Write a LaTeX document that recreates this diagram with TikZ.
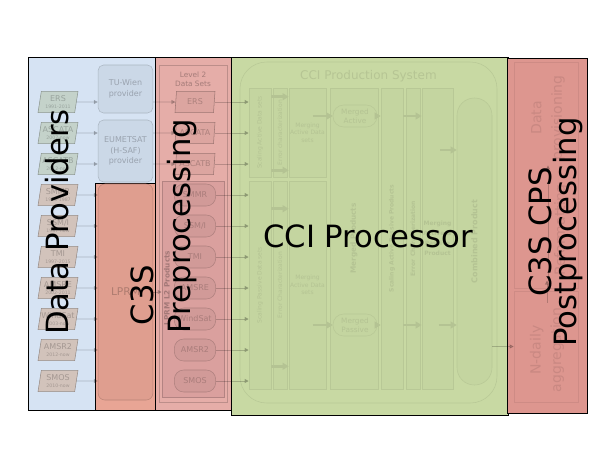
\documentclass[tikz,border=0pt]{standalone}
\usepackage{fontspec}
\setmainfont{DejaVu Sans}
\usetikzlibrary{arrows.meta, positioning, shapes.geometric}
\definecolor{provblue}{HTML}{D6E3F3}
\definecolor{c3sred}{HTML}{E8A595}
\definecolor{preppink}{HTML}{E5ADA8}
\definecolor{ccigreen}{HTML}{C8D9A3}
\definecolor{postred}{HTML}{DD968F}
\definecolor{satgreen}{HTML}{C4D2CA}
\definecolor{sattan}{HTML}{D2C3BB}
\definecolor{l2pink}{HTML}{DCA5A0}
\definecolor{l2dark}{HTML}{DAA09E}
\newcommand{\yrs}[1]{{\fontsize{3.5}{4}\selectfont #1}}

\begin{document}
\begin{tikzpicture}[x=0.75pt, y=-0.75pt,
  panel/.style={draw=black, line width=0.7pt, fill=#1},
  big/.style={font=\fontsize{23}{17.5}\selectfont, align=center, inner sep=0pt},
  sat/.style={trapezium, trapezium left angle=76, trapezium right angle=104,
    trapezium stretches body, draw=#1!72!black, fill=#1, text=#1!78!black,
    minimum width=30pt, minimum height=16pt, inner sep=0pt, align=center,
    font=\fontsize{6}{6.5}\selectfont},
  prov/.style={rectangle, rounded corners=4pt, draw=provblue!80!black,
    fill=provblue!95!black, text=provblue!72!black, minimum width=41pt,
    align=center, font=\fontsize{6}{8}\selectfont},
  oval/.style={rectangle, rounded corners=7pt, draw=l2dark!80!black,
    fill=l2dark!96!black, text=l2dark!78!black, minimum width=31pt,
    minimum height=16.5pt, inner sep=0pt, font=\fontsize{6}{7}\selectfont},
  col/.style={rectangle, draw=ccigreen!92!black, fill=ccigreen!98!black,
    text=ccigreen!90!black, inner sep=0pt, align=center,
    font=\fontsize{4.5}{5.5}\selectfont},
  ghost/.style={text=#1, font=\fontsize{10.5}{15.5}\selectfont, rotate=90, align=center},
  arr/.style={-{Triangle[length=3pt, width=3pt]}, line width=0.5pt, draw=black, opacity=0.2},
  fat/.style={-{Triangle[length=4.5pt, width=5pt]}, line width=2pt, draw=ccigreen!90!black},
]
  \path[use as bounding box, fill=white] (0,0) rectangle (589,462);

  % coloured panels
  \draw[panel=provblue] (28,57) rectangle (155,410);
  \draw[panel=c3sred] (95,183) rectangle (157,410);
  \draw[panel=preppink] (155,57) rectangle (231,410);
  \draw[panel=ccigreen] (231,57) rectangle (508,415);
  \draw[panel=postred] (507,58) rectangle (587,413);

  % data providers
  \node[prov, minimum height=36pt] (tuwien) at (125.5,89) {TU-Wien\\provider};
  \node[prov, minimum height=46.5pt] (eumetsat) at (125.5,151) {EUMETSAT\\(H-SAF)\\provider};
  \node[rectangle, rounded corners=5pt, draw=c3sred!80!black, fill=c3sred!96!black,
    text=c3sred!75!black, minimum width=41pt, minimum height=162pt,
    font=\fontsize{8}{9}\selectfont] (lprm) at (125.5,292) {LPRM};

  \node[sat=satgreen] (ers) at (58,102) {ERS\\[-1pt]\yrs{1991-2011}};
  \node[sat=satgreen] (ascata) at (58,133) {ASCATA\\[-1pt]\yrs{2007-now}};
  \node[sat=satgreen] (ascatb) at (58,164) {ASCATB\\[-1pt]\yrs{2012-now}};
  \node[sat=sattan] (smmr) at (58,195) {SMMR\\[-1pt]\yrs{1978-1987}};
  \node[sat=sattan] (ssmi) at (58,226) {SSM/I\\[-1pt]\yrs{1987-now}};
  \node[sat=sattan] (tmi) at (58,257) {TMI\\[-1pt]\yrs{1997-2015}};
  \node[sat=sattan] (amsre) at (58,288) {AMSRE\\[-1pt]\yrs{2002-2011}};
  \node[sat=sattan] (windsat) at (58,319) {WindSat\\[-1pt]\yrs{2003-now}};
  \node[sat=sattan] (amsr2) at (58,350) {AMSR2\\[-1pt]\yrs{2012-now}};
  \node[sat=sattan] (smos) at (58,381) {SMOS\\[-1pt]\yrs{2010-now}};

  \draw[arr] (ers) -- (ers -| tuwien.west);
  \draw[arr] (ascata) -- (ascata -| eumetsat.west);
  \draw[arr] (ascatb) -- (ascatb -| eumetsat.west);
  \draw[arr] (smmr) -- (smmr -| lprm.west);
  \draw[arr] (ssmi) -- (ssmi -| lprm.west);
  \draw[arr] (tmi) -- (tmi -| lprm.west);
  \draw[arr] (amsre) -- (amsre -| lprm.west);
  \draw[arr] (windsat) -- (windsat -| lprm.west);
  \draw[arr] (amsr2) -- (amsr2 -| lprm.west);
  \draw[arr] (smos) -- (smos -| lprm.west);

  % level 2 data sets
  \node[rectangle, draw=preppink!82!black, minimum width=51pt, minimum height=252.75pt] (level2) at (193,233.5) {};
  \node[font=\fontsize{5.5}{7}\selectfont, text=preppink!72!black, align=center,
    below=1.5pt of level2.north] (level2lbl) {Level 2\\Data Sets};
  \node[sat=l2pink] (l2ers) at (195,102) {ERS};
  \node[sat=l2pink] (l2ascata) at (195,133) {ASCATA};
  \node[sat=l2pink] (l2ascatb) at (195,164) {ASCATB};
  \node[rectangle, draw=l2dark!82!black, fill=l2dark, minimum width=46.5pt, minimum height=162pt] (l2lprm) at (193,289) {};
  \node[rotate=90, font=\bfseries\fontsize{5.5}{6}\selectfont, text=l2dark!75!black] (l2lprmlbl) at (167,288) {LPRM L2 Products};
  \node[oval] (l2smmr) at (195,195) {SMMR};
  \node[oval] (l2ssmi) at (195,226) {SSM/I};
  \node[oval] (l2tmi) at (195,257) {TMI};
  \node[oval] (l2amsre) at (195,288) {AMSRE};
  \node[oval] (l2windsat) at (195,319) {WindSat};
  \node[oval] (l2amsr2) at (195,350) {AMSR2};
  \node[oval] (l2smos) at (195,381) {SMOS};

  \draw[arr] (ers -| tuwien.east) -- (l2ers);
  \draw[arr] (ascata -| eumetsat.east) -- (l2ascata);
  \draw[arr] (ascatb -| eumetsat.east) -- (l2ascatb);
  \draw[arr] (lprm.east) -- (lprm.east -| l2lprm.west);

  % CCI production system
  \node[rectangle, rounded corners=20pt, draw=ccigreen!92!black, minimum width=192.75pt, minimum height=255.75pt] (cps) at (368.5,232.5) {};
  \node[font=\fontsize{9}{10}\selectfont, text=ccigreen!91!black, below=3pt of cps.north] (cpslbl) {CCI Production System};

  \node[col, minimum width=16.5pt, minimum height=66.75pt] (scaleA) at (260,132.5) {\rotatebox{90}{Scaling Active Data sets}};
  \node[col, minimum width=10.5pt, minimum height=66.75pt] (errA) at (280,132.5) {\rotatebox{90}{Error characterization}};
  \node[col, minimum width=27.75pt, minimum height=66.75pt] (mergeA) at (307.5,132.5) {Merging\\Active Data\\sets};
  \node[col, minimum width=16.5pt, minimum height=156pt] (scaleP) at (260,285) {\rotatebox{90}{Scaling Passive Data sets}};
  \node[col, minimum width=10.5pt, minimum height=156pt] (errP) at (280,285) {\rotatebox{90}{Error Characterization}};
  \node[col, minimum width=27.75pt, minimum height=156pt] (mergeP) at (307.5,285) {Merging\\Active Data\\sets};
  \node[col, minimum width=36pt, minimum height=225.75pt, font=\bfseries\fontsize{5.5}{6}\selectfont] (merged) at (354,238.5) {\rotatebox{90}{Merged Products}};
  \node[col, minimum width=16.5pt, minimum height=225.75pt, font=\bfseries\fontsize{4.5}{5.5}\selectfont] (scaleAP) at (392,238.5) {\rotatebox{90}{Scaling Active Passive Products}};
  \node[col, minimum width=10.5pt, minimum height=225.75pt, font=\bfseries\fontsize{4.5}{5.5}\selectfont] (errAP) at (413,238.5) {\rotatebox{90}{Error Characterization}};
  \node[col, minimum width=23.25pt, minimum height=225.75pt, font=\bfseries\fontsize{4.5}{7.5}\selectfont] (mergeAP) at (437.5,238.5) {Merging\\Active \&\\Passive\\Product};
  \node[col, rounded corners=13pt, minimum width=26.25pt, minimum height=215.25pt, font=\bfseries\fontsize{6}{7}\selectfont] (combined) at (474.5,241.5) {\rotatebox{90}{Combined Product}};

  \node[col, rounded corners=8pt, minimum width=33pt, minimum height=16.5pt, font=\fontsize{5.5}{6.5}\selectfont] (mA) at (355,116) {Merged\\Active};
  \node[col, rounded corners=8pt, minimum width=33pt, minimum height=16.5pt, font=\fontsize{5.5}{6.5}\selectfont] (mP) at (355,325) {Merged\\Passive};

  \draw[arr] (l2ers) -- (l2ers -| scaleA.west);
  \draw[arr] (l2ascata) -- (l2ascata -| scaleA.west);
  \draw[arr] (l2ascatb) -- (l2ascatb -| scaleA.west);
  \draw[arr] (l2smmr) -- (l2smmr -| scaleP.west);
  \draw[arr] (l2ssmi) -- (l2ssmi -| scaleP.west);
  \draw[arr] (l2tmi) -- (l2tmi -| scaleP.west);
  \draw[arr] (l2amsre) -- (l2amsre -| scaleP.west);
  \draw[arr] (l2windsat) -- (l2windsat -| scaleP.west);
  \draw[arr] (l2amsr2) -- (l2amsr2 -| scaleP.west);
  \draw[arr] (l2smos) -- (l2smos -| scaleP.west);

  \draw[fat] ([yshift=-6.75pt]scaleA.north east) -- ([yshift=-6.75pt]mergeA.north west);
  \draw[fat] ([yshift=5.25pt]scaleA.south east) -- ([yshift=5.25pt]mergeA.south west);
  \draw[fat] ([yshift=-21pt]scaleP.north east) -- ([yshift=-21pt]mergeP.north west);
  \draw[fat] ([yshift=17.25pt]scaleP.south east) -- ([yshift=17.25pt]mergeP.south west);
  \draw[fat] ([xshift=-15pt]mA.west) -- (mA.west);
  \draw[fat] ([xshift=-15pt]mP.west) -- (mP.west);
  \draw[fat] (mA.east) -- (mA.east -| scaleAP.west);
  \draw[fat] (mP.east) -- (mP.east -| scaleAP.west);
  \draw[fat] (mA -| scaleAP.east) -- (mA -| mergeAP.west);
  \draw[fat] (mP -| scaleAP.east) -- (mP -| mergeAP.west);
  \coordinate (upjoin) at (440,150);
  \draw[fat] (upjoin) -- (upjoin -| combined.west);
  \draw[fat] ([xshift=-11pt]mergeAP.east |- mP) -- (combined.west |- mP);

  % postprocessing
  \node[rectangle, draw=postred!93!black, minimum width=48pt, minimum height=169.5pt] (postup) at (546,175) {};
  \node[rectangle, draw=postred!93!black, minimum width=48pt, minimum height=83.25pt] (nday) at (546,346.5) {};
  \node[ghost=postred!91!black] (provision) at (548,118) {Data\\provisioning};
  \node[ghost=postred!91!black] (reformat) at (561,230) {Reformatting};
  \node[ghost=postred!91!black] (ndaylbl) at (547,350) {N-daily\\aggregation};
  \draw[arr] (reformat.west -| provision.west) -- (provision.west);
  \draw[arr] (ndaylbl.east) -- (ndaylbl.east |- reformat.west);
  \draw[arr] (combined.east |- nday) -- (nday.west);

  % overlay labels
  \node[big, rotate=90] (dplbl) at (57,222) {Data Providers};
  \node[big, rotate=90] (c3slbl) at (142,295) {C3S};
  \node[big, rotate=90] (preplbl) at (182,226) {Preprocessing};
  \node[big] (ccilbl) at (368,236) {CCI Processor};
  \node[big, rotate=90] (postlbl) at (556,232) {C3S CPS\\Postprocessing};
\end{tikzpicture}
\end{document}
